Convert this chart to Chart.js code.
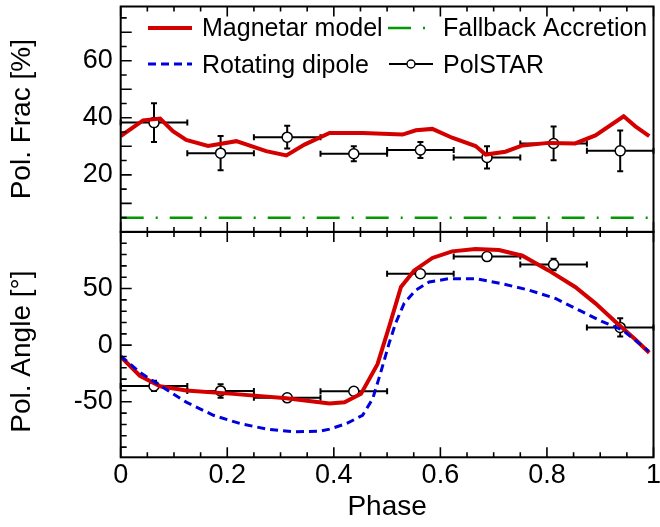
<!DOCTYPE html>
<html>
<head>
<meta charset="utf-8">
<title>Polarisation vs phase</title>
<script src="https://cdn.jsdelivr.net/npm/chart.js@4.4.1/dist/chart.umd.min.js"></script>
<style>
  html, body { margin: 0; padding: 0; background: #fff; }
  #c { display: block; }
</style>
</head>
<body>
<canvas id="c" width="660" height="527"></canvas>
<script>
const FONT = '"Liberation Sans", Arial, Helvetica, sans-serif';

// PolSTAR phase-binned measurements
const binCentres     = [0.0625, 0.1875, 0.3125, 0.4375, 0.5625, 0.6875, 0.8125, 0.9375];
const binHalfWidths  = [0.0625, 0.0625, 0.0625, 0.0625, 0.0625, 0.0625, 0.0625, 0.0625];
const polstarFrac    = [38.3, 27.6, 33.2, 27.4, 28.7, 26.1, 31.0, 28.4];
const polstarFracErr = [6.8, 6.0, 4.0, 2.6, 2.8, 3.9, 5.9, 7.1];
const polstarAngle    = [-36.0, -40.4, -46.5, -40.7, 63.0, 78.2, 71.2, 15.7];
const polstarAngleErr = [4.5, 6.0, 2.0, 2.0, 1.2, 3.0, 5.0, 8.0];

// Magnetar model: polarisation fraction
const magFracPhase = [0, 0.042, 0.074, 0.098, 0.123, 0.164, 0.217, 0.273, 0.311, 0.345, 0.392,
                      0.454, 0.529, 0.554, 0.585, 0.622, 0.666, 0.685, 0.722, 0.754, 0.803,
                      0.853, 0.891, 0.944, 0.966, 0.992];
const magFracValue = [33.6, 39.1, 39.7, 35.3, 32.2, 30.1, 31.8, 28.3, 26.8, 30.6, 34.7,
                      34.7, 34.1, 35.6, 36.1, 33.0, 30.1, 27.1, 28.1, 30.3, 31.2,
                      31.0, 33.8, 40.5, 37.0, 33.6];

// Magnetar model: polarisation angle
const magAnglePhase = [0, 0.036, 0.074, 0.123, 0.211, 0.311, 0.392, 0.42, 0.451, 0.482, 0.504,
                       0.526, 0.551, 0.585, 0.622, 0.666, 0.71, 0.754, 0.803, 0.853, 0.891,
                       0.928, 0.966, 0.992];
const magAngleValue = [-10.2, -27.0, -36.3, -40.1, -43.0, -46.8, -51.5, -50.5, -43.0, -16.8, 16.6,
                       51.4, 66.0, 77.0, 82.8, 85.0, 84.0, 79.0, 66.0, 51.4, 36.9,
                       20.9, 5.0, -6.7];

// Rotating dipole: polarisation angle
const dipAnglePhase = [0, 0.036, 0.074, 0.123, 0.174, 0.224, 0.274, 0.324, 0.374, 0.392, 0.424,
                       0.454, 0.473, 0.488, 0.504, 0.516, 0.532, 0.554, 0.579, 0.616, 0.666,
                       0.716, 0.766, 0.816, 0.866, 0.903, 0.941, 0.991];
const dipAngleValue = [-9.6, -24.0, -35.7, -50.3, -61.9, -69.2, -74.1, -76.5, -75.9, -74.1, -69.2,
                       -61.9, -47.3, -24.1, 2.0, 19.4, 36.9, 48.6, 55.8, 58.7, 58.7,
                       54.3, 48.6, 41.2, 29.6, 20.9, 13.7, -5.2];

// Fallback accretion: constant polarisation fraction
const fallbackPhase = [0, 1];
const fallbackFrac  = [5, 5];

// Axis ranges and labelled ticks
const phaseTicks  = [0, 0.2, 0.4, 0.6, 0.8, 1];
const phaseLabels = ['0', '0.2', '0.4', '0.6', '0.8', '1'];
const fracRange   = [0, 79];
const fracTicks   = [20, 40, 60];
const angleRange  = [-99, 100];
const angleTicks  = [-50, 0, 50];

const RED = '#d40000', BLUE = '#0000dd', GREEN = '#009a00';

const toPoints = (xs, ys) => xs.map((x, i) => ({ x, y: ys[i] }));

// Horizontal (bin width) and vertical error bars drawn below the markers
const errorBars = {
  id: 'errorBars',
  beforeDatasetsDraw(chart) {
    const { ctx } = chart;
    const xs = chart.scales.x;
    ctx.save();
    ctx.strokeStyle = '#000';
    ctx.lineWidth = 2;
    chart.data.datasets.forEach(ds => {
      if (!ds.errY) return;
      const ys = chart.scales[ds.yAxisID];
      ds.data.forEach((p, i) => {
        const x0 = xs.getPixelForValue(p.x - ds.errX[i]);
        const x1 = xs.getPixelForValue(p.x + ds.errX[i]);
        const px = xs.getPixelForValue(p.x);
        const py = ys.getPixelForValue(p.y);
        const y0 = ys.getPixelForValue(p.y + ds.errY[i]);
        const y1 = ys.getPixelForValue(p.y - ds.errY[i]);
        ctx.beginPath();
        ctx.moveTo(x0, py); ctx.lineTo(x1, py);
        ctx.moveTo(x0, py - 3); ctx.lineTo(x0, py + 3);
        ctx.moveTo(x1, py - 3); ctx.lineTo(x1, py + 3);
        ctx.moveTo(px, y0); ctx.lineTo(px, y1);
        ctx.moveTo(px - 3, y0); ctx.lineTo(px + 3, y0);
        ctx.moveTo(px - 3, y1); ctx.lineTo(px + 3, y1);
        ctx.stroke();
      });
    });
    ctx.restore();
  }
};

// Panel frames with inward-pointing major and minor ticks
const panelFrames = {
  id: 'panelFrames',
  afterDraw(chart) {
    const { ctx } = chart;
    const xs = chart.scales.x;
    const panels = [
      { id: 'yFrac', minor: 5, major: 10 },
      { id: 'yAng', minor: 10, major: 50 }
    ];
    ctx.save();
    ctx.strokeStyle = '#000';
    panels.forEach(({ id, minor, major }) => {
      const s = chart.scales[id];
      const L = xs.left, R = xs.right, T = s.top, B = s.bottom;
      ctx.lineWidth = 1.6;
      ctx.beginPath();
      for (let k = 0; k <= 20; k++) {
        const px = xs.getPixelForValue(k * 0.05);
        const len = k % 4 === 0 ? 10 : 5;
        ctx.moveTo(px, T); ctx.lineTo(px, T + len);
        ctx.moveTo(px, B); ctx.lineTo(px, B - len);
      }
      for (let v = Math.ceil(s.min / minor) * minor; v <= s.max; v += minor) {
        const py = s.getPixelForValue(v);
        const len = Math.abs(v % major) < 1e-9 ? 11 : 6;
        ctx.moveTo(L, py); ctx.lineTo(L + len, py);
      }
      ctx.stroke();
      ctx.lineWidth = 2;
      ctx.strokeRect(L, T, R - L, B - T);
    });
    ctx.restore();
  }
};

// Angle-panel axis title, set slightly below the panel centre
const angleTitle = {
  id: 'angleTitle',
  afterDraw(chart) {
    const { ctx } = chart;
    const s = chart.scales.yAng;
    ctx.save();
    ctx.translate(22, (s.top + s.bottom) / 2 + 7);
    ctx.rotate(-Math.PI / 2);
    ctx.font = '28px ' + FONT;
    ctx.fillStyle = '#000';
    ctx.textAlign = 'center';
    ctx.textBaseline = 'middle';
    ctx.fillText('Pol. Angle [°]', 0, 0);
    ctx.restore();
  }
};

// Two-column legend in the upper panel
const panelLegend = {
  id: 'panelLegend',
  afterDraw(chart) {
    const { ctx } = chart;
    const find = label => chart.data.datasets.find(d => d.label === label);
    const entries = [
      { label: 'Magnetar model',     x0: 148, x1: 192, y: 28, tx: 202, ty: 36 },
      { label: 'Fallback Accretion', x0: 388, x1: 427, y: 28, tx: 443, ty: 36 },
      { label: 'Rotating dipole',    x0: 148, x1: 192, y: 64, tx: 202, ty: 72.5 },
      { label: 'PolSTAR',            x0: 389, x1: 433, y: 64, tx: 443, ty: 72.5 }
    ];
    ctx.save();
    entries.forEach(e => {
      const ds = find(e.label);
      ctx.beginPath();
      if (ds.showLine === false) {
        ctx.strokeStyle = '#000';
        ctx.lineWidth = 2;
        ctx.setLineDash([]);
      } else {
        ctx.strokeStyle = ds.borderColor;
        ctx.lineWidth = ds.borderWidth;
        ctx.setLineDash(ds.borderDash || []);
      }
      ctx.moveTo(e.x0, e.y); ctx.lineTo(e.x1, e.y);
      ctx.stroke();
      ctx.setLineDash([]);
      if (ds.showLine === false) {
        ctx.beginPath();
        ctx.arc((e.x0 + e.x1) / 2, e.y, 4, 0, Math.PI * 2);
        ctx.fillStyle = '#fff';
        ctx.fill();
        ctx.lineWidth = 1.4;
        ctx.stroke();
      }
      ctx.fillStyle = '#000';
      ctx.font = '25px ' + FONT;
      ctx.textAlign = 'left';
      ctx.textBaseline = 'alphabetic';
      ctx.fillText(e.label, e.tx, e.ty);
    });
    ctx.restore();
  }
};

const tickFont = { family: FONT, size: 27 };
const titleFont = { family: FONT, size: 28 };

new Chart(document.getElementById('c'), {
  type: 'scatter',
  data: {
    datasets: [
      {
        label: 'Rotating dipole', yAxisID: 'yAng',
        data: toPoints(dipAnglePhase, dipAngleValue),
        showLine: true, borderColor: BLUE, borderWidth: 3, borderDash: [8, 5],
        pointRadius: 0, tension: 0, fill: false
      },
      {
        label: 'Magnetar model', yAxisID: 'yAng',
        data: toPoints(magAnglePhase, magAngleValue),
        showLine: true, borderColor: RED, borderWidth: 4,
        pointRadius: 0, tension: 0, fill: false
      },
      {
        label: 'Magnetar model (fraction)', yAxisID: 'yFrac',
        data: toPoints(magFracPhase, magFracValue),
        showLine: true, borderColor: RED, borderWidth: 4,
        pointRadius: 0, tension: 0, fill: false
      },
      {
        label: 'Fallback Accretion', yAxisID: 'yFrac',
        data: toPoints(fallbackPhase, fallbackFrac),
        showLine: true, borderColor: GREEN, borderWidth: 2.5, borderDash: [23, 12, 2, 12],
        pointRadius: 0, tension: 0, fill: false
      },
      {
        label: 'PolSTAR', yAxisID: 'yFrac',
        data: toPoints(binCentres, polstarFrac),
        errX: binHalfWidths, errY: polstarFracErr,
        showLine: false, pointRadius: 5, pointBackgroundColor: '#fff',
        pointBorderColor: '#000', pointBorderWidth: 1.5
      },
      {
        label: 'PolSTAR (angle)', yAxisID: 'yAng',
        data: toPoints(binCentres, polstarAngle),
        errX: binHalfWidths, errY: polstarAngleErr,
        showLine: false, pointRadius: 5, pointBackgroundColor: '#fff',
        pointBorderColor: '#000', pointBorderWidth: 1.5
      }
    ]
  },
  options: {
    responsive: false,
    animation: false,
    devicePixelRatio: 1,
    layout: { padding: { top: 2.7, right: 5, left: 0, bottom: 0 } },
    plugins: { legend: { display: false }, tooltip: { enabled: false } },
    scales: {
      x: {
        type: 'linear', position: 'bottom', min: 0, max: 1,
        afterBuildTicks: s => { s.ticks = phaseTicks.map(v => ({ value: v })); },
        afterFit: s => { s.height = 69.7; s.paddingLeft = 0; s.paddingRight = 0; },
        grid: { display: false, drawTicks: false, tickLength: 0 },
        border: { display: false },
        ticks: {
          font: tickFont, color: '#000', padding: 2, maxRotation: 0, minRotation: 0,
          autoSkip: false, callback: (v, i) => phaseLabels[i]
        },
        title: { display: true, text: 'Phase', font: titleFont, color: '#000', padding: { top: 0, bottom: 3 } }
      },
      yFrac: {
        type: 'linear', position: 'left', stack: 'panels', stackWeight: 1, weight: 1,
        min: fracRange[0], max: fracRange[1],
        afterBuildTicks: s => { s.ticks = fracTicks.map(v => ({ value: v })); },
        afterFit: s => { s.width = 120.7; s.paddingTop = 0; s.paddingBottom = 0; },
        grid: { display: false, drawTicks: false, tickLength: 0 },
        border: { display: false },
        ticks: { font: tickFont, color: '#000', padding: 8, callback: v => String(v) },
        title: { display: true, text: 'Pol. Frac [%]', font: titleFont, color: '#000', padding: { top: 5, bottom: 0 } }
      },
      yAng: {
        type: 'linear', position: 'left', stack: 'panels', stackWeight: 1, weight: 0,
        min: angleRange[0], max: angleRange[1],
        afterBuildTicks: s => { s.ticks = angleTicks.map(v => ({ value: v })); },
        afterFit: s => { s.width = 120.7; s.paddingTop = 0; s.paddingBottom = 0; },
        grid: { display: false, drawTicks: false, tickLength: 0 },
        border: { display: false },
        ticks: { font: tickFont, color: '#000', padding: 8, callback: v => String(v) },
        title: { display: false }
      }
    }
  },
  plugins: [errorBars, panelFrames, angleTitle, panelLegend]
});
</script>
</body>
</html>
